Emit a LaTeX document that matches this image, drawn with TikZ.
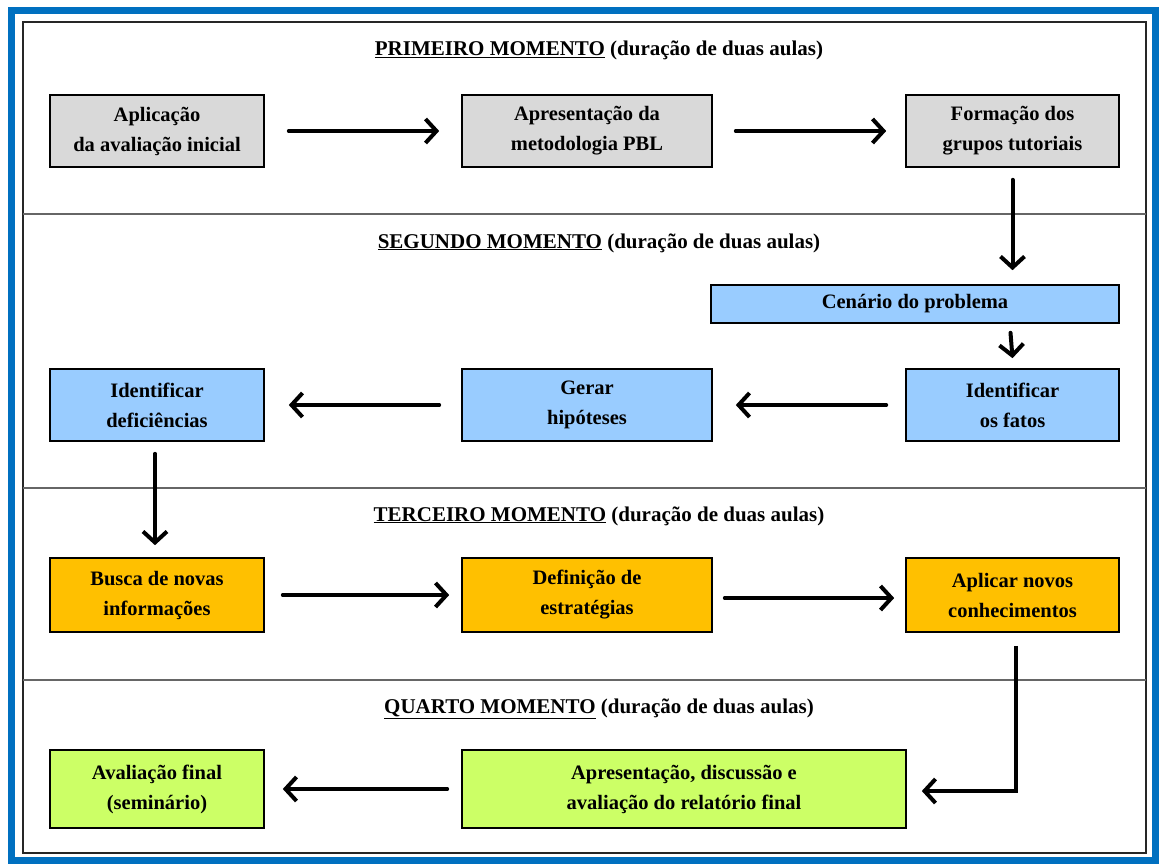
\documentclass[tikz,border=0pt]{standalone}
\usepackage{fontspec}
\setmainfont{Liberation Serif}
\usetikzlibrary{arrows.meta}
\definecolor{frameblue}{HTML}{0070C0}
\definecolor{gbox}{HTML}{D9D9D9}
\definecolor{bbox}{HTML}{99CCFF}
\definecolor{obox}{HTML}{FFC000}
\definecolor{lbox}{HTML}{CCFF66}
\tikzset{
  stepbox/.style={draw=black, line width=1.6pt, font=\bfseries\fontsize{20.5}{30}\selectfont, align=center, inner sep=0pt},
  flow/.style={line width=4pt, -{Straight Barb[length=11pt,width=24pt,line width=4pt]}, line cap=round},
  sep/.style={draw=black!60, line width=1.3pt},
  title/.style={font=\bfseries\fontsize{21}{24}\selectfont, anchor=base}
}
\begin{document}
\begin{tikzpicture}[x=1pt,y=-1pt]
\useasboundingbox (0,0) rectangle (1159,867);
\fill[white] (0,0) rectangle (1159,867);
\draw[frameblue, line width=7pt] (11.5,11) rectangle (1155.5,860);
\draw[black!85, line width=1.6pt] (23,22) rectangle (1146,853);
\draw[sep] (23,214) -- (1146,214);
\draw[sep] (23,488) -- (1146,488);
\draw[sep] (23,680) -- (1146,680);

\node[title] (t1) at (599,56) {\underline{PRIMEIRO MOMENTO} (duração de duas aulas)};
\node[title] (t2) at (599,248) {\underline{SEGUNDO MOMENTO} (duração de duas aulas)};
\node[title] (t3) at (599,521) {\underline{TERCEIRO MOMENTO} (duração de duas aulas)};
\node[title] (t4) at (599,713) {\underline{QUARTO MOMENTO} (duração de duas aulas)};

% row 1
\node[stepbox, fill=gbox, minimum width=214pt, minimum height=72pt] (a1) at (157,131) {Aplicação\\da avaliação inicial};
\node[stepbox, fill=gbox, minimum width=250pt, minimum height=72pt] (a2) at (587,131) {Apresentação da\\metodologia PBL};
\node[stepbox, fill=gbox, minimum width=213pt, minimum height=72pt] (a3) at (1012.5,131) {Formação dos\\grupos tutoriais};
% row 2
\node[stepbox, fill=bbox, minimum width=408pt, minimum height=38pt] (b0) at (915,304) {Cenário do problema};
\node[stepbox, fill=bbox, minimum width=213pt, minimum height=72pt] (b1) at (1012.5,405) {Identificar\\os fatos};
\node[stepbox, fill=bbox, minimum width=250pt, minimum height=72pt] (b2) at (587,405) {Gerar\\hipóteses};
\node[stepbox, fill=bbox, minimum width=214pt, minimum height=72pt] (b3) at (157,405) {Identificar\\deficiências};
% row 3
\node[stepbox, fill=obox, minimum width=214pt, minimum height=74pt] (c1) at (157,595) {Busca de novas\\informações};
\node[stepbox, fill=obox, minimum width=250pt, minimum height=74pt] (c2) at (587,595) {Definição de\\estratégias};
\node[stepbox, fill=obox, minimum width=213pt, minimum height=74pt] (c3) at (1012.5,595) {Aplicar novos\\conhecimentos};
% row 4
\node[stepbox, fill=lbox, minimum width=444pt, minimum height=78pt] (d1) at (684,789) {Apresentação, discussão e\\avaliação do relatório final};
\node[stepbox, fill=lbox, minimum width=214pt, minimum height=78pt] (d2) at (157,789) {Avaliação final\\(seminário)};

\draw[flow] ([xshift=24pt]a1.east) -- ([xshift=-22pt]a2.west);
\draw[flow] ([xshift=23pt]a2.east) -- ([xshift=-19pt]a3.west);
\draw[flow] ([yshift=-12pt]a3.south) -- ([xshift=97.5pt,yshift=14pt]b0.north);
\draw[flow] ([xshift=95.5pt,yshift=-9pt]b0.south) -- ([yshift=10pt]b1.north);
\draw[flow] ([xshift=-19pt]b1.west) -- ([xshift=23pt]b2.east);
\draw[flow] ([xshift=-22pt]b2.west) -- ([xshift=24pt]b3.east);
\draw[flow] ([xshift=-2pt,yshift=-12pt]b3.south) -- ([xshift=-2pt,yshift=12pt]c1.north);
\draw[flow] ([xshift=18pt]c1.east) -- ([xshift=-12pt]c2.west);
\draw[flow] ([xshift=12pt,yshift=-3pt]c2.east) -- ([xshift=-11pt,yshift=-3pt]c3.west);
\coordinate (elb) at (1016,791);
\draw[flow, line cap=butt] ([xshift=3.5pt,yshift=-13pt]c3.south) -- (elb) -- ([xshift=15pt,yshift=-2pt]d1.east);
\draw[flow] ([xshift=-14pt]d1.west) -- ([xshift=18pt]d2.east);
\end{tikzpicture}
\end{document}
